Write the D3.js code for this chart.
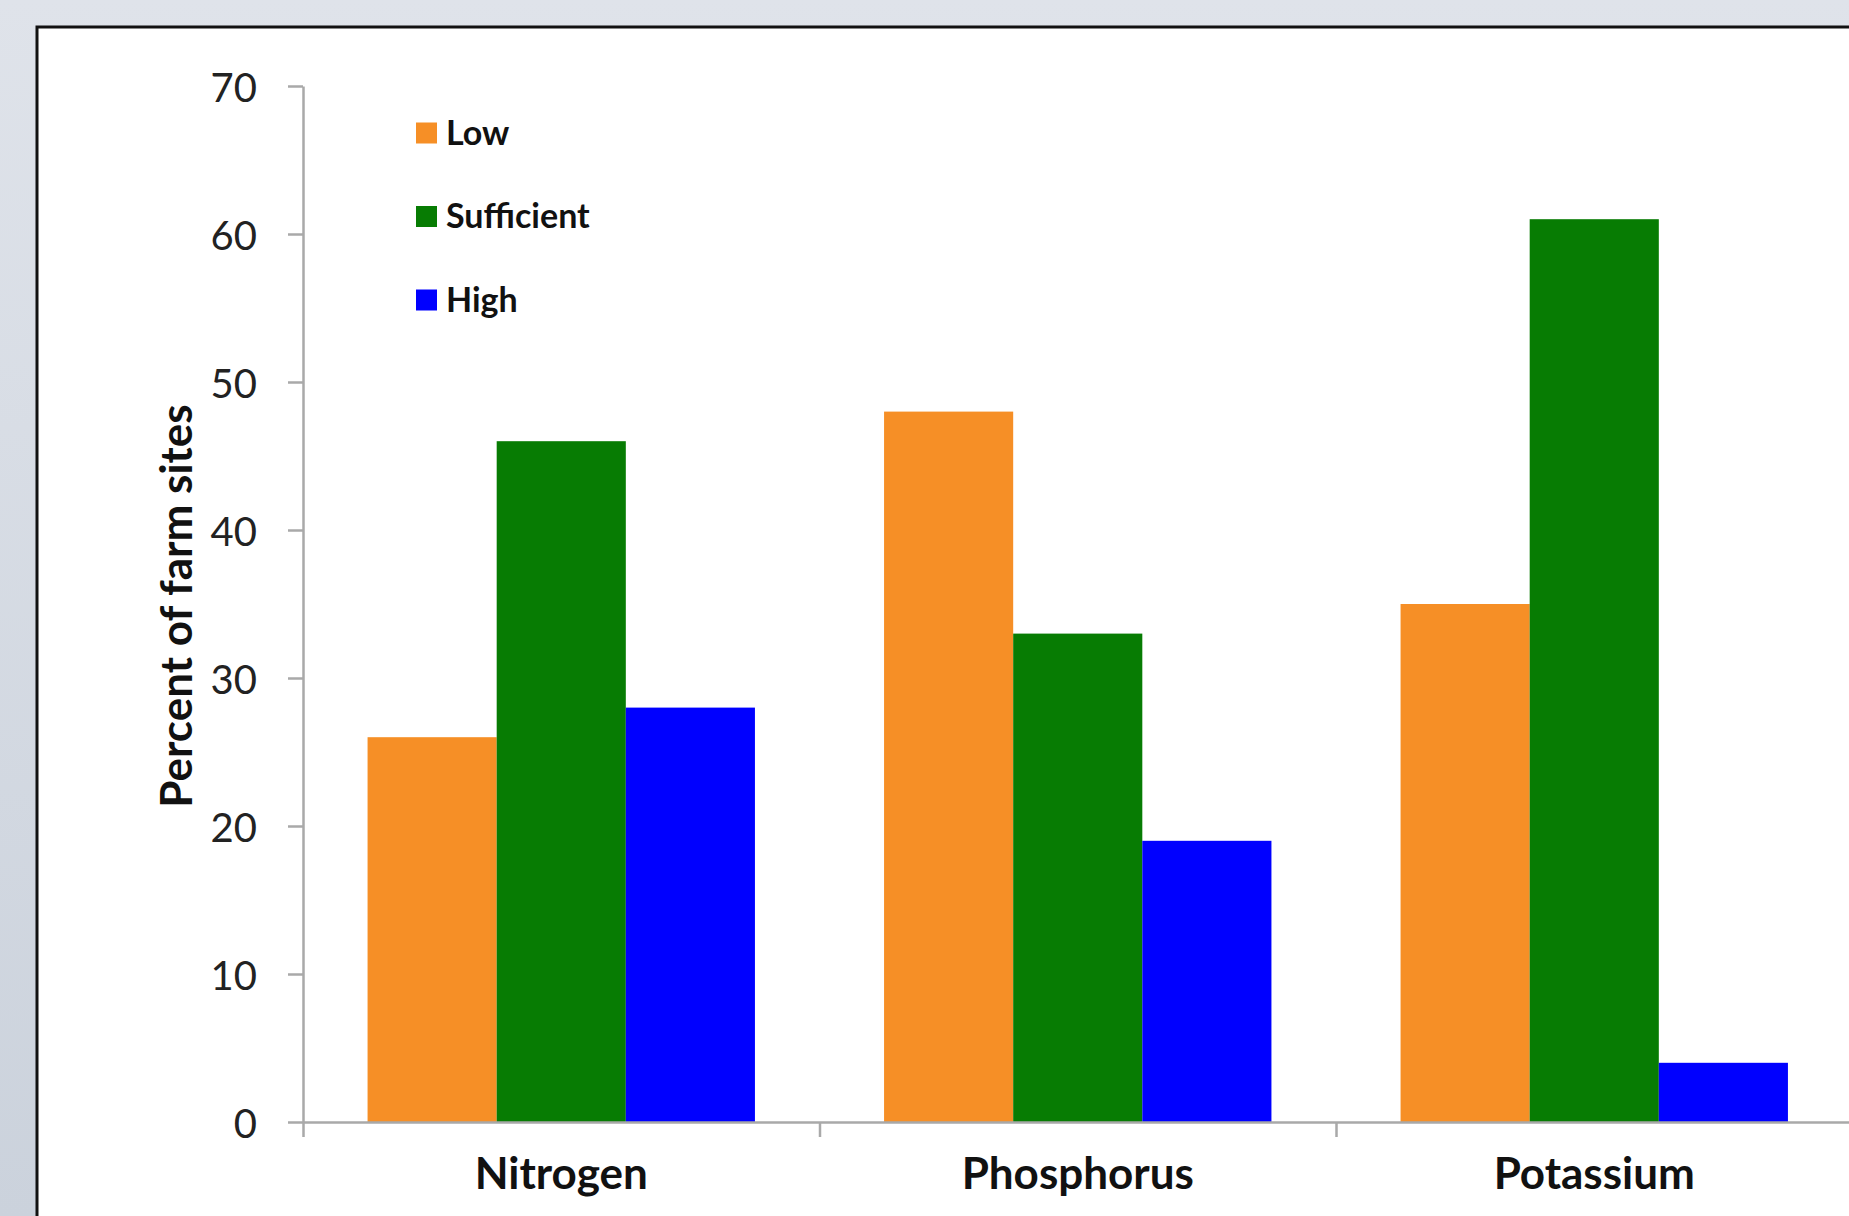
<!DOCTYPE html>
<html>
<head>
<meta charset="utf-8">
<script src="https://cdn.jsdelivr.net/npm/d3@7"></script>
<style>
  html, body { margin: 0; padding: 0; overflow: hidden; }
  body { width: 1849px; height: 1216px; }
  text { font-family: Lato, "Open Sans", sans-serif; }
</style>
</head>
<body>
<div id="chart"></div>
<script>
// Chart data
var nutrients = ["Nitrogen", "Phosphorus", "Potassium"];
var levels = ["Low", "Sufficient", "High"];
var lowValues = [26, 48, 35];
var sufficientValues = [46, 33, 61];
var highValues = [28, 19, 4];
var yTicks = [0, 10, 20, 30, 40, 50, 60, 70];
var levelColors = ["#f68f26", "#077c03", "#0000ff"];

var W = 1849, H = 1216;
var margin = { top: 86, left: 303, bottom: 94 };
var band = 516.5;

var svg = d3.select("#chart")
    .append("svg")
    .attr("width", W)
    .attr("height", H);

// Background gradient
var defs = svg.append("defs");
var grad = defs.append("linearGradient")
    .attr("id", "bg")
    .attr("x1", 0).attr("y1", 0).attr("x2", 0).attr("y2", 1);
grad.append("stop").attr("offset", "0%").attr("stop-color", "#dfe3ea");
grad.append("stop").attr("offset", "100%").attr("stop-color", "#cbd2dc");

svg.append("rect")
    .attr("width", W)
    .attr("height", H)
    .attr("fill", "url(#bg)");

// White slide panel with black frame
svg.append("rect")
    .attr("x", 37)
    .attr("y", 27)
    .attr("width", W + 100)
    .attr("height", H + 100)
    .attr("fill", "#ffffff")
    .attr("stroke", "#111111")
    .attr("stroke-width", 3);

// Build rows for grouped bars
var series = [lowValues, sufficientValues, highValues];
var rows = nutrients.map(function(n, i) {
    return {
        nutrient: n,
        values: levels.map(function(l, j) {
            return { level: l, value: series[j][i] };
        })
    };
});

// Scales
var x0 = d3.scaleBand()
    .domain(nutrients)
    .range([margin.left, margin.left + band * nutrients.length])
    .padding(0);

var x1 = d3.scaleBand()
    .domain(levels)
    .range([band * 0.125, band * 0.875])
    .padding(0);

var y = d3.scaleLinear()
    .domain([0, 70])
    .range([H - margin.bottom, margin.top]);

var color = d3.scaleOrdinal()
    .domain(levels)
    .range(levelColors);

// Bars
var groups = svg.selectAll(".group")
    .data(rows)
    .enter()
    .append("g")
    .attr("class", "group")
    .attr("transform", function(d) { return "translate(" + x0(d.nutrient) + ",0)"; });

groups.selectAll("rect")
    .data(function(d) { return d.values; })
    .enter()
    .append("rect")
    .attr("x", function(d) { return x1(d.level); })
    .attr("y", function(d) { return y(d.value); })
    .attr("width", x1.bandwidth())
    .attr("height", function(d) { return y(0) - y(d.value); })
    .attr("fill", function(d) { return color(d.level); });

// Y axis
var yAxis = d3.axisLeft(y)
    .tickValues(yTicks)
    .tickSize(15)
    .tickSizeOuter(0)
    .tickPadding(31);

var gy = svg.append("g")
    .attr("transform", "translate(" + margin.left + ",0)")
    .call(yAxis);
gy.select(".domain").attr("stroke", "#a9a9a9").attr("stroke-width", 2.5);
gy.selectAll(".tick line").attr("stroke", "#a9a9a9").attr("stroke-width", 2.5);
gy.selectAll(".tick text")
    .attr("font-family", "Lato, sans-serif")
    .attr("font-size", "40px")
    .attr("dy", "0.38em")
    .attr("fill", "#222222");

// X axis: boundary ticks between categories
var xEdges = d3.scaleLinear()
    .domain([0, nutrients.length])
    .range(x0.range());

var gxTicks = svg.append("g")
    .attr("transform", "translate(0," + y(0) + ")")
    .call(d3.axisBottom(xEdges)
        .tickValues(d3.range(0, nutrients.length + 1))
        .tickFormat("")
        .tickSize(15)
        .tickSizeOuter(0));
gxTicks.select(".domain").attr("stroke", "#a9a9a9").attr("stroke-width", 2.5);
gxTicks.selectAll(".tick line").attr("stroke", "#a9a9a9").attr("stroke-width", 2.5);

// X axis: category labels
var gxLabels = svg.append("g")
    .attr("transform", "translate(0," + y(0) + ")")
    .call(d3.axisBottom(x0).tickSize(0).tickPadding(36));
gxLabels.select(".domain").remove();
gxLabels.selectAll(".tick text")
    .attr("font-family", "Lato, sans-serif")
    .attr("font-size", "44px")
    .attr("font-weight", "bold")
    .attr("fill", "#111111");

// Y axis title
svg.append("text")
    .attr("transform", "translate(192," + (y(35) + 2) + ") rotate(-90)")
    .attr("text-anchor", "middle")
    .attr("font-size", "44px")
    .attr("font-weight", "bold")
    .attr("fill", "#111111")
    .text("Percent of farm sites");

// Legend
var legend = svg.selectAll(".legend")
    .data(levels)
    .enter()
    .append("g")
    .attr("class", "legend")
    .attr("transform", function(d, i) { return "translate(416," + (132.5 + i * 83.5) + ")"; });

legend.append("rect")
    .attr("x", 0)
    .attr("y", -10)
    .attr("width", 21)
    .attr("height", 21)
    .attr("fill", function(d) { return color(d); });

legend.append("text")
    .attr("x", 30)
    .attr("y", 0)
    .attr("dy", "0.36em")
    .attr("font-size", "34px")
    .attr("font-weight", "bold")
    .attr("fill", "#111111")
    .text(function(d) { return d; });
</script>
</body>
</html>
